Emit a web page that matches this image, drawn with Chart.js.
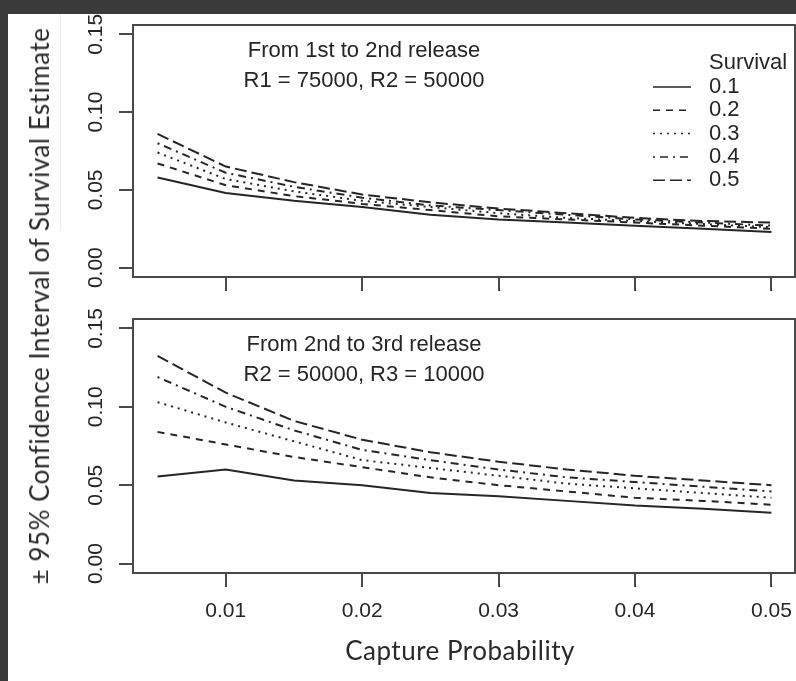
<!DOCTYPE html>
<html>
<head>
<meta charset="utf-8">
<script src="https://cdn.jsdelivr.net/npm/chart.js@4.4.1/dist/chart.umd.min.js"></script>
<style>
  html, body { margin: 0; padding: 0; }
  body { width: 796px; height: 681px; background: #3a3a3a; position: relative; overflow: hidden; }
  #sheet { position: absolute; left: 8px; top: 14px; right: 0; bottom: 0; background: #fff; }
  #edge { position: absolute; left: 60px; top: 14px; width: 1px; height: 216px; background: #ececec; }
  canvas { position: absolute; left: 0; }
  #c1 { top: 0; }
  #c2 { top: 300px; }
  .axtitle { position: absolute; font-family: Lato, 'Open Sans', sans-serif; color: #2a2a2a; white-space: nowrap; letter-spacing: 0.5px; }
  #ytitle { font-size: 26px; left: 39px; top: 306px; transform: translate(-50%, -50%) rotate(-90deg); }
  #xtitle { font-size: 26px; left: 460px; top: 650px; transform: translate(-50%, -50%); }
</style>
</head>
<body>
<div id="sheet"></div>
<div id="edge"></div>
<canvas id="c1" width="796" height="300"></canvas>
<canvas id="c2" width="796" height="381"></canvas>
<div class="axtitle" id="ytitle">± 95% Confidence Interval of Survival Estimate</div>
<div class="axtitle" id="xtitle">Capture Probability</div>
<script>
// capture probability on the x axis
const captureProb = [0.005, 0.01, 0.015, 0.02, 0.025, 0.03, 0.035, 0.04, 0.045, 0.05];
const survival = ['0.1', '0.2', '0.3', '0.4', '0.5'];
const xTicks = [0.01, 0.02, 0.03, 0.04, 0.05];
const yTicks = [0, 0.05, 0.10, 0.15];

// panel 1: from 1st to 2nd release (R1 = 75000, R2 = 50000)
const ci12_s01 = [0.058, 0.048, 0.043, 0.039, 0.034, 0.031, 0.029, 0.027, 0.025, 0.023];
const ci12_s02 = [0.067, 0.053, 0.046, 0.041, 0.037, 0.033, 0.031, 0.029, 0.027, 0.025];
const ci12_s03 = [0.074, 0.057, 0.049, 0.043, 0.039, 0.035, 0.032, 0.030, 0.028, 0.026];
const ci12_s04 = [0.080, 0.061, 0.052, 0.045, 0.040, 0.037, 0.034, 0.031, 0.029, 0.027];
const ci12_s05 = [0.086, 0.065, 0.055, 0.047, 0.042, 0.038, 0.035, 0.032, 0.030, 0.029];

// panel 2: from 2nd to 3rd release (R2 = 50000, R3 = 10000)
const ci23_s01 = [0.0555, 0.060, 0.053, 0.050, 0.045, 0.043, 0.040, 0.037, 0.035, 0.0325];
const ci23_s02 = [0.084, 0.076, 0.068, 0.0615, 0.055, 0.050, 0.046, 0.042, 0.040, 0.0375];
const ci23_s03 = [0.103, 0.090, 0.078, 0.066, 0.061, 0.056, 0.051, 0.048, 0.045, 0.042];
const ci23_s04 = [0.119, 0.100, 0.085, 0.0725, 0.066, 0.060, 0.055, 0.052, 0.049, 0.046];
const ci23_s05 = [0.1325, 0.109, 0.091, 0.079, 0.071, 0.065, 0.060, 0.056, 0.053, 0.050];

const panel1Text = ['From 1st to 2nd release', 'R1 = 75000, R2 = 50000'];
const panel2Text = ['From 2nd to 3rd release', 'R2 = 50000, R3 = 10000'];

// R style line types: solid, dashed, dotted, dotdash, longdash
const lineDashes = [[], [7, 6], [2, 5], [2, 5, 8, 5], [12, 5]];
const ink = '#262626';
const labelFont = "'Liberation Sans', Arial, sans-serif";

function makeDatasets(series) {
    return series.map((vals, i) => ({
        label: survival[i],
        data: vals.map((v, j) => ({ x: captureProb[j], y: v })),
        borderColor: ink,
        borderWidth: 2,
        borderDash: lineDashes[i],
        pointRadius: 0,
        tension: 0,
        fill: false
    }));
}

// box around the plot region, panel caption and (optionally) legend
const panelDecor = {
    id: 'panelDecor',
    afterDatasetsDraw(chart, args, opts) {
        const { ctx, chartArea: a } = chart;
        ctx.save();
        ctx.strokeStyle = '#4a4a4a';
        ctx.lineWidth = 2;
        ctx.setLineDash([]);
        ctx.strokeRect(a.left, a.top, a.right - a.left - 1, a.bottom - a.top);

        ctx.fillStyle = ink;
        ctx.font = '22px ' + labelFont;
        ctx.textAlign = 'center';
        ctx.textBaseline = 'middle';
        ctx.fillText(opts.text[0], 364, a.top + 26);
        ctx.fillText(opts.text[1], 364, a.top + 56);

        if (opts.legend) {
            ctx.textAlign = 'left';
            ctx.fillText('Survival', 709, a.top + 38);
            chart.data.datasets.forEach((ds, i) => {
                const y = a.top + 62 + i * 23.3;
                ctx.strokeStyle = ink;
                ctx.lineWidth = 1.5;
                ctx.setLineDash(ds.borderDash);
                ctx.beginPath();
                ctx.moveTo(653, y);
                ctx.lineTo(691, y);
                ctx.stroke();
                ctx.fillText(ds.label, 709, y);
            });
        }
        ctx.restore();
    }
};

function makeChart(canvasId, series, text, withLegend, topPad, xHeight, showXLabels) {
    return new Chart(document.getElementById(canvasId), {
        type: 'line',
        data: { datasets: makeDatasets(series) },
        options: {
            responsive: false,
            animation: false,
            layout: { padding: { top: topPad, left: 0, right: 0, bottom: 0 } },
            plugins: {
                legend: { display: false },
                tooltip: { enabled: false },
                panelDecor: { text: text, legend: withLegend }
            },
            scales: {
                x: {
                    type: 'linear',
                    min: 0.0032,
                    max: 0.0518,
                    afterBuildTicks: s => { s.ticks = xTicks.map(v => ({ value: v })); },
                    afterFit: s => { s.height = xHeight; s.paddingLeft = 0; s.paddingRight = 0; },
                    border: { display: false },
                    grid: { drawOnChartArea: false, drawTicks: true, tickLength: 14, color: '#4a4a4a', lineWidth: 2 },
                    ticks: {
                        display: showXLabels,
                        padding: 12,
                        color: ink,
                        font: { family: labelFont, size: 21 },
                        callback: v => v.toFixed(2)
                    }
                },
                y: {
                    type: 'linear',
                    min: -0.006,
                    max: 0.156,
                    afterBuildTicks: s => { s.ticks = yTicks.map(v => ({ value: v })); },
                    afterFit: s => { s.width = 133; s.paddingTop = 0; s.paddingBottom = 0; },
                    border: { display: false },
                    grid: { drawOnChartArea: false, drawTicks: true, tickLength: 14, color: '#4a4a4a', lineWidth: 2 },
                    ticks: {
                        minRotation: 90,
                        maxRotation: 90,
                        crossAlign: 'center',
                        autoSkip: false,
                        padding: 2,
                        color: ink,
                        font: { family: labelFont, size: 21 },
                        callback: v => v.toFixed(2)
                    }
                }
            }
        },
        plugins: [panelDecor]
    });
}

makeChart('c1', [ci12_s01, ci12_s02, ci12_s03, ci12_s04, ci12_s05], panel1Text, true, 25, 23, false);
makeChart('c2', [ci23_s01, ci23_s02, ci23_s03, ci23_s04, ci23_s05], panel2Text, false, 19, 108, true);
</script>
</body>
</html>
